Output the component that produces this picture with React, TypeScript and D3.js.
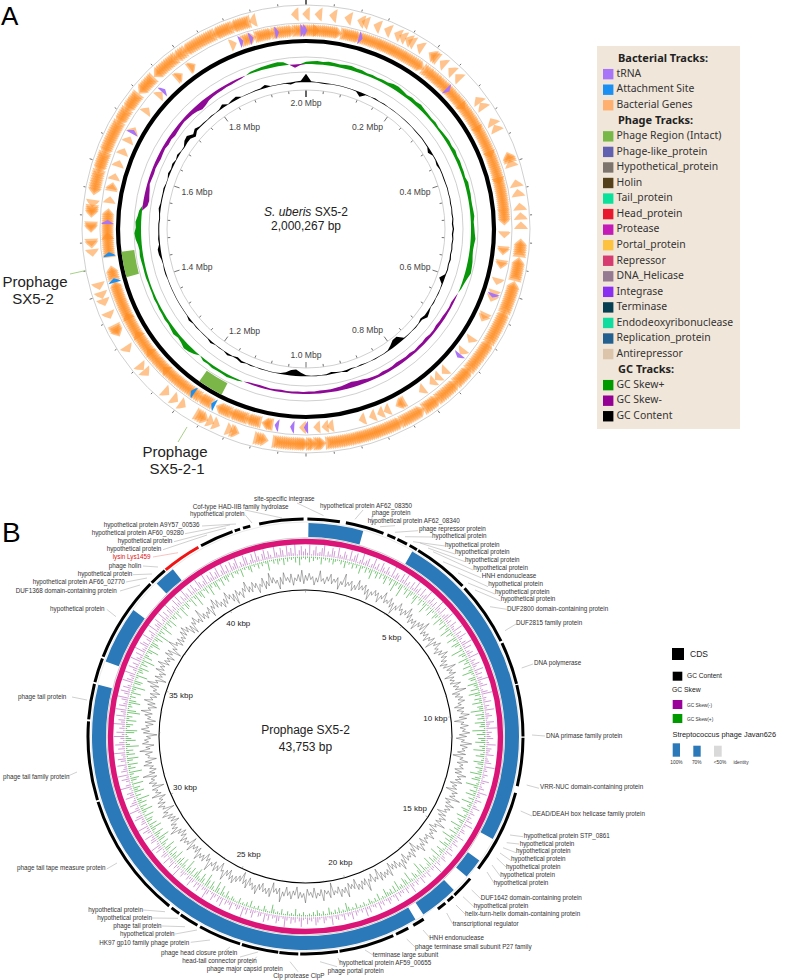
import React from "react";
import * as d3 from "d3";

// ---------- Panel A data ----------
const genomeMbp = 2.000267;
const mbpLabels = [0.2, 0.4, 0.6, 0.8, 1.0, 1.2, 1.4, 1.6, 1.8, 2.0];
// gene clusters along the genome, in degrees clockwise from the origin [start, end]
const forwardGenes = [
  [0, 0], [3.3, 3.3], [7.2, 7.2], [11.3, 11.3], [14.8, 14.8], [16, 16], [19.3, 19.3], [22.3, 22.3], [25.2, 25.2], [26.7, 26.7], [28.4, 28.4], [29.4, 29.4], [32, 32], [35.8, 37], [39.5, 39.5], [42.5, 42.5], [45, 45], [53.1, 53.1], [55, 55], [60, 60], [62, 62], [70, 71], [72.2, 72.2], [77.7, 77.7], [80.3, 80.3], [84, 84], [86.5, 86.5], [89, 89],
  [93.5, 96.5], [98.5, 103], [105, 112], [113, 121], [122, 130], [131, 135], [136, 141.5], [142.5, 146], [147.5, 153], [154, 160], [160.5, 165], [165.5, 173.8], [175.5, 177], [178, 179], [180, 181.5],
  [182, 188], [191, 193], [199, 199.6], [200.8, 200.8], [204.6, 204.6], [206.3, 206.3], [208, 210], [215, 215], [217.5, 217.5], [220.5, 220.5], [228, 228], [230, 230], [236, 236], [241, 242.5], [246.3, 246.3], [250, 250], [252, 252], [254.5, 254.5], [263.6, 263.6], [265.8, 266.4], [270, 271], [274, 275.5], [276.8, 276.8],
  [280, 285], [286, 290], [291, 299], [300, 303], [304, 308], [310, 314], [316, 322], [323, 325], [326, 334], [335, 339], [340, 344], [345.6, 345.6], [357, 357],
];
const reverseGenes = [
  [346, 350], [351, 356], [357, 363], [3, 5.5], [6, 9.5], [11, 15.5], [16.5, 22], [22.5, 26], [26.5, 30], [30.5, 35.5], [37, 39], [39.5, 42], [42.5, 45], [45.5, 52], [52, 60], [60, 68], [68, 76], [76, 85], [85.5, 88],
  [91.7, 91.7], [96, 96.6], [100, 100.6], [105.4, 105.4], [109, 109], [110.5, 110.5], [116, 116.8], [124, 124], [128.2, 128.2], [135.8, 135.8], [138.5, 138.5], [140.5, 140.5], [144.3, 144.3], [151, 152.2], [156, 156], [158, 158], [160.5, 160.5], [163.6, 163.6], [173, 173], [174.5, 174.5], [176.9, 176.9], [181, 181],
  [190.5, 192], [194, 197], [198, 202], [203, 206], [209, 212], [213, 218], [218.6, 225], [225, 232], [232, 238], [238, 244], [244, 254], [256, 258.4], [262.8, 268], [268, 272], [272.6, 275], [278.5, 278.5], [282, 282.6], [285.3, 285.3], [289.3, 289.3], [293, 293], [296.8, 296.8], [299.8, 299.8], [306.7, 306.7], [312.7, 312.7], [320, 320.6], [324.7, 325.2], [338.6, 338.6], [342, 344.5],
];
const trnaSites = [341, 344, 351.6, 359, 359.8, 16, 45.6, 109.6, 129.7, 299.3, 314.2, 272, 184, 188.5, 180];
const attachmentSites = [207.9, 214.8, 255, 262.7];
const phageRegions = [[207, 215], [255, 263]];
// GC skew, one value every 2 degrees (plus = green, minus = purple)
const gcSkewA = [
  2.5, 3, 3.5, 3, 4, 3.5, 3, 4, 4.5, 3.5, 3.5, 2.5, 3, 2.5, 3, 3, 4.5, 5, 4, 3, 4, 3.5, 4.5, 3.5,
  3, 2.5, 3, 2, 2.5, 3, 3.5, 3, 4, 3, 3.5, 3, 3, 2.5, 4, 3.5, 3.5, 3, 3, 3.5, 4, 3, 3.5, 4, 5, 4, 3.5, 4, 5, 5.5, 6, 4, 2.5, 1.5,
  0, -1.5, -2.5, -2, -2.5, -3, -3, -3.5, -2.5, -2.5, -3.5, -3, -3, -2.5, -3.5, -3, -3.5, -4, -3, -3, -3.5, -2.5, -3, -3.5, -4.5, -5, -6, -5, -4, -3.5, -3, -3, -3, -2.5, -2.5, -2, -2.5, -2, -2, -2.5, -2, -1.5, -2, -2.5, -2, -1.5,
  0, 1.5, 2, 3, 2.5, 2.5, 3, 2, 2.5, 0, 3, 5, 6, 4, 3, 4.5, 3.5, 2.5, 3, 2.5, 2.5, 2, 2.5, 2, 2, 2, 2.5, 2.5, 2.5, 3, 3.5, 3, 4, 6, 7, 5.5, 6, 4, 3,
  -5, -6, -5, -4, -2.5, -3, -3.5, -3, -3.5, -4, -3.5, -3, -4, -3.5, -4.5, -4, -3.5, -3, -3.5, -4, -5, -7, -6, -4, -3.5, -3, -3, -2.5, -2.5, -2, -1.5,
  0, 2, 2.5, 3, 3.5, 4, 4.5, 3.5, 0, -3.5, -1,
];
// GC content, one value every 2 degrees
const gcContentA = [
  8, 0.5, 0, -0.5, -0.5, 0, 0, 0, 0, 0,
  -0.3, -4, -0.3, 0, 0.6, 0, 0.3, 0, 0, 0,
  0, 0, 0, 0, -0.3, -0.3, 0.3, -0.3, -0.5, -3,
  -0.3, -0.3, -1.5, -0.3, -0.3, -0.5, -0.3, 0.3, -0.3, 0.3,
  -0.5, 0.3, -0.5, 0.5, -0.8, 0.8, -0.8, 0.5, -0.5, 0.5,
  -0.5, 0.8, -0.5, 0.5, -0.5, -5, -0.5, 0, 0.3, 0,
  0.5, 0, 1.5, 3, -1.5, 0, 0.5, 0, 0, -0.3,
  -6, -6, -3, -0.5, 0, 0, 0.3, 0, 0, -0.5,
  0, -0.5, 1.5, 0, -0.5, -1.5, 0.5, 0, 0.3, 0,
  -0.5, -3, -6, -5, -2, -0.5, 0, 0, 0, 0.3,
  0, 0.5, 0, 1.5, -1.5, 0, 1.5, 0, 0.3, 0,
  1.5, 0, 0, 0, 0.5, 0, 1.5, 0, 0, 0,
  0, 0, 0, 0, 0, 0, 0.5, 0.5, 0, 0.5,
  2, 2.5, 0.5, 1, 0.5, 0.5, 0.5, -0.5, 0.5, 1.5,
  0.5, 0.5, 0.5, 1, 0, 0, 1.5, 0.5, 1.5, 0,
  1.5, 0, -0.5, 3, 4, -3, 2.5, 0.5, 0.5, 0,
  0.5, 0, 0.5, 3, 0, 1.5, 2.5, 0, 0, 0,
  0.5, 0.5, 2.5, 0, 0, 0, 0.3, -1.5, 0.5, 1,
];

const legendA: [string, string | null][] = [
  ["Bacterial Tracks:", null], ["tRNA", "#a874f8"], ["Attachment Site", "#1b8ff2"], ["Bacterial Genes", "#ffb070"],
  ["Phage Tracks:", null], ["Phage Region (Intact)", "#78b848"], ["Phage-like_protein", "#6160b0"], ["Hypothetical_protein", "#7d756d"], ["Holin", "#55401c"], ["Tail_protein", "#0ae29c"], ["Head_protein", "#e8182e"], ["Protease", "#c41ab8"], ["Portal_protein", "#fcc240"], ["Repressor", "#d73c70"], ["DNA_Helicase", "#957a92"], ["Integrase", "#8a2ef0"], ["Terminase", "#073f52"], ["Endodeoxyribonuclease", "#10dca0"], ["Replication_protein", "#23608f"], ["Antirepressor", "#dcc4aa"],
  ["GC Tracks:", null], ["GC Skew+", "#009a00"], ["GC Skew-", "#940094"], ["GC Content", "#000000"],
];

// ---------- Panel B data ----------
const phageBp = 43753;
const kbpLabels = [5, 10, 15, 20, 25, 30, 35, 40];
const cdsArcs = [
  [0.5, 9.1], [10.7, 21], [22.1, 24.4], [25, 27.8], [28.6, 30.8], [31.2, 46.2], [47, 64], [64.6, 76], [76.3, 90], [90.3, 103.2], [105, 127.4], [130.8, 136.8], [137.3, 139.2], [140, 142.5], [147.1, 150.3], [151.8, 155.4], [156.2, 171], [171.4, 181.4], [181.9, 186.9], [187.2, 197], [197.5, 209], [209.8, 215], [215.5, 218], [218.8, 252.5], [253, 274], [274.5, 284], [284.5, 291], [291.5, 314.5], [315, 319.7], [331.3, 340.4], [341, 342.5], [343.3, 345.3], [347.7, 359.5],
];
const lysinArc = [320, 330.5];
const identityArcs = [[0.8, 15.7], [30, 118.7], [125.5, 131], [136, 146.5], [149, 284], [290.6, 306.3], [315.8, 321.6]];
const skewMinusB = [
  5,2,8,1,4,7,2,3,6,9,1,4,2,7,5,1,8,3,2,6,4,1,8,2,5,7,1,3,9,2,4,6,1,3,8,2,5,1,7,4,
  2,6,3,1,9,2,5,4,1,7,3,8,2,4,1,6,2,9,3,5,1,7,2,4,8,1,3,6,2,5,1,9,4,2,7,1,3,5,8,2,
  4,1,6,3,2,8,1,5,2,7,3,1,4,9,2,6,1,3,5,2,8,1,4,2,6,3,1,7,2,5,1,4,9,2,3,6,1,2,5,8,
  1,3,2,6,1,4,2,7,1,3,5,2,1,6,3,2,8,1,4,2,3,5,1,2,7,1,4,3,2,6,1,2,3,5,1,8,2,3,1,4,
  2,1,6,3,1,2,4,1,7,2,3,1,5,2,1,3,6,1,2,4,1,3,2,5,1,7,2,1,3,4,1,2,6,1,3,2,5,1,2,4,
  1,6,2,1,3,5,1,2,4,1,8,2,3,1,2,5,1,3,2,6,1,2,4,1,3,7,1,2,5,1,3,2,4,1,6,2,1,3,5,2,
  1,4,2,6,1,3,2,1,5,2,7,1,3,1,2,4,1,6,2,3,1,5,2,1,4,3,1,7,2,1,3,5,1,2,4,6,1,3,2,5,
  1,2,7,3,1,4,2,5,1,3,8,2,1,4,6,2,3,1,5,2,7,1,3,4,1,2,6,3,1,5,2,8,1,3,4,2,1,6,3,2,
  4,1,7,2,5,1,3,6,2,1,4,8,2,3,1,6,2,5,1,3,7,2,4,1,2,5,3,1,9,2,4,1,6,3,2,7,1,4,5,2,
  1,6,3,8,2,1,5,4,2,7,1,3,6,2,9,1,4,3,2,7,5,1,2,8,3,1,6,4,2,1,7,3,5,1,2,9,4,1,3,6,
  2,8,1,5,3,2,7,1,4,6,2,3,9,1,5,2,7,4,1,3,8,2,6,1,4,2,9,3,5,1,7,2,4,8,1,6,3,2,5,9,
  1,4,7,2,6,3,1,8,5,2,4,9,1,3,7,2,5,1,8,4,2,6,1,9,3,2,7,5,1,4,8,2,3,6,1,9,2,5,4,7,
  1,3,8,2,6,1,5,9,2,4,1,7,3,8,1,5,2,9,4,1,6,2,7,3,1,8,5,2,4,9,1,6,3,7,2,5,8,1,4,9,
  2,6,1,7,3,5,9,1,4,2,8,6,1,3,7,2,9,4,1,5,8,2,6,3,1,9,4,2,7,5,1,8,3,6,2,9,1,4,7,3,
];
const skewPlusB = [
  2,1,4,1,3,1,2,1,5,1,2,1,3,1,4,2,1,1,3,1,5,1,2,1,4,1,3,1,6,2,1,4,1,3,7,1,2,5,1,4,
  1,3,6,1,2,5,1,8,3,1,4,9,1,2,5,1,6,3,1,4,7,1,2,5,1,3,8,1,4,1,6,2,1,5,3,1,7,2,4,1,
  6,1,3,8,1,5,2,1,7,3,1,6,4,1,2,9,1,5,3,1,7,2,4,1,6,1,3,8,2,1,5,4,1,7,3,2,6,1,8,4,
  1,5,2,7,1,4,3,9,1,6,2,5,1,7,3,4,1,9,2,6,1,5,3,7,1,4,2,8,1,3,6,1,2,7,4,1,5,2,3,8,
  1,4,6,1,2,9,3,1,5,2,7,1,4,1,8,2,3,1,6,4,1,2,7,1,5,3,1,8,2,4,1,6,1,3,9,2,5,1,4,7,
  1,2,6,3,1,8,1,4,2,5,1,7,3,1,2,6,1,9,4,1,3,5,1,2,8,1,4,6,1,3,2,7,1,5,1,4,2,3,6,1,
  2,1,5,1,3,1,2,4,1,1,3,1,2,1,4,1,2,1,3,6,1,2,1,4,1,3,1,2,5,1,1,3,1,2,4,1,3,1,2,1,
  1,3,1,2,1,5,1,2,1,3,1,1,4,1,2,1,3,6,1,1,2,4,1,1,3,1,2,1,5,1,3,1,2,1,4,1,1,2,3,1,
  2,5,1,3,7,1,4,8,1,3,6,1,5,9,1,4,7,2,3,8,5,1,6,2,4,9,1,3,7,2,6,4,1,8,3,5,2,7,1,4,
  8,1,3,6,1,5,9,2,4,7,1,3,8,2,6,1,4,5,1,7,1,3,8,2,5,1,6,3,9,1,4,1,7,3,5,1,8,1,4,6,
  1,3,9,1,5,2,7,1,4,8,1,6,2,5,1,9,3,1,7,4,2,1,6,8,1,3,5,1,7,2,4,1,9,6,1,3,2,8,5,1,
  4,1,7,2,3,9,1,5,6,1,2,8,1,4,3,7,1,5,2,9,1,6,3,1,4,8,1,2,7,5,1,3,6,1,9,2,4,1,8,3,
  1,5,2,7,1,3,4,1,6,2,1,8,3,1,5,4,1,2,7,1,3,9,1,4,6,1,2,5,1,8,3,1,4,7,1,2,6,1,3,5,
  2,1,4,1,2,3,1,6,1,2,1,3,5,1,2,1,4,1,3,1,2,7,1,1,3,1,4,2,1,5,1,3,1,2,1,4,1,6,2,1,
];
const gcContentB = [
  3,-2,5,-1,2,-6,1,-3,8,-2,1,-4,3,-1,6,-3,2,-1,4,-7,1,-2,9,-3,2,-1,4,-5,1,-3,7,-2,3,-1,5,-4,2,-8,1,-2,
  4,-1,3,-6,2,-1,7,-3,1,-2,5,-4,2,-9,1,-3,6,-1,2,-4,3,-1,8,-2,4,-5,1,-3,2,-7,3,-1,5,-2,9,-4,1,-3,2,-6,
  1,-2,4,-8,3,-1,6,-2,1,-5,3,-2,7,-1,4,-3,2,-6,1,-4,8,-2,3,-1,5,-7,2,-3,1,-4,6,-2,3,-1,9,-5,2,-3,4,-1,
  5,-2,1,-6,3,-4,2,-1,7,-3,4,-8,1,-2,5,-3,2,-1,6,-4,3,-7,1,-2,8,-3,4,-1,2,-5,3,-9,1,-2,6,-4,2,-1,3,-5,
  2,-4,7,-1,3,-2,5,-6,1,-3,2,-8,4,-1,3,-2,9,-5,1,-3,6,-2,4,-1,2,-7,3,-4,5,-1,2,-3,8,-2,1,-6,4,-3,2,-1,
  6,-3,1,-2,4,-5,3,-1,7,-2,2,-9,1,-4,5,-3,2,-1,3,-6,4,-2,8,-1,3,-5,2,-4,1,-7,6,-2,3,-1,4,-3,5,-8,2,-1,
  3,-6,1,-2,9,-4,2,-3,5,-1,4,-7,2,-3,1,-5,8,-2,3,-1,6,-4,2,-1,3,-9,5,-2,1,-3,7,-4,2,-1,4,-6,3,-2,1,-5,
  8,-1,3,-2,4,-7,1,-3,5,-2,2,-6,3,-1,9,-4,2,-3,1,-8,6,-2,4,-1,3,-5,2,-3,7,-1,4,-2,1,-6,5,-3,2,-9,1,-4,
  3,-2,6,-1,4,-5,2,-3,8,-1,1,-7,3,-2,5,-4,2,-1,9,-3,1,-6,4,-2,3,-1,7,-5,2,-4,1,-3,6,-8,2,-1,3,-2,5,-4,
  1,-6,2,-3,8,-1,4,-2,3,-7,1,-5,2,-4,6,-1,3,-9,2,-1,5,-3,4,-2,1,-6,7,-3,2,-1,4,-8,3,-2,5,-1,2,-4,9,-3,
  2,-5,1,-3,6,-2,4,-7,1,-1,3,-4,8,-2,2,-6,5,-1,3,-3,1,-9,4,-2,6,-1,2,-5,3,-7,1,-2,4,-3,8,-1,2,-6,3,-4,
  7,-1,2,-4,3,-6,1,-2,5,-3,9,-1,2,-8,4,-3,1,-5,6,-2,3,-1,7,-4,2,-3,1,-6,5,-2,4,-9,1,-3,8,-1,2,-5,3,-4,
  1,-3,5,-2,7,-1,4,-6,2,-8,3,-1,6,-2,1,-4,9,-3,2,-5,1,-2,4,-7,3,-1,8,-2,5,-3,1,-6,2,-4,7,-1,3,-5,2,-9,
  4,-2,1,-6,3,-1,8,-3,2,-4,5,-1,3,-7,1,-2,6,-5,2,-3,9,-1,4,-2,1,-8,3,-4,7,-1,2,-3,5,-6,1,-2,4,-3,8,-5,
];
const geneLabels = [
  "site-specific integrase", "Cof-type HAD-IIB family hydrolase", "hypothetical protein", "hypothetical protein A9Y57_00536", "hypothetical protein AF60_09280", "hypothetical protein", "hypothetical protein", "lysin Lys1459", "phage holin", "hypothetical protein", "hypothetical protein AF66_02770", "DUF1368 domain-containing protein", "hypothetical protein",
  "hypothetical protein AF62_08350", "phage protein", "hypothetical protein AF62_08340", "phage repressor protein", "hypothetical protein", "hypothetical protein", "hypothetical protein", "hypothetical protein", "hypothetical protein", "HNH endonuclease", "hypothetical protein", "hypothetical protein", "hypothetical protein", "DUF2800 domain-containing protein", "DUF2815 family protein", "DNA polymerase", "DNA primase family protein", "VRR-NUC domain-containing protein", "DEAD/DEAH box helicase family protein",
  "hypothetical protein STP_0861", "hypothetical protein", "hypothetical protein", "hypothetical protein", "hypothetical protein", "hypothetical protein", "hypothetical protein", "DUF1642 domain-containing protein", "hypothetical protein", "helix-turn-helix domain-containing protein", "transcriptional regulator", "HNH endonuclease", "phage terminase small subunit P27 family", "terminase large subunit", "hypothetical protein AF59_00655", "phage portal protein", "Clp protease ClpP", "phage major capsid protein", "head-tail connector protein", "phage head closure protein", "HK97 gp10 family phage protein", "hypothetical protein", "phage tail protein", "hypothetical protein", "hypothetical protein", "phage tail tape measure protein", "phage tail family protein", "phage tail protein",
];
// layout of each label: text x, y, leader x1, y1, x2, y2
const geneLabelLayout = [
  [254, 499.3, 297, 503, 323.5, 515.6], [192.7, 507.3, 245, 510, 282, 518], [190, 514.7, 245, 514.7, 252, 523], [103.7, 525.7, 202, 526, 236, 524], [91.7, 533.7, 185, 533.7, 230, 525], [117.7, 541.7, 174, 541.7, 226, 528], [106.7, 549.7, 163, 549.7, 207, 535], [112.7, 557.3, 153, 557, 178, 552.7], [108.7, 566, 143, 566, 158, 567], [77.7, 574.7, 133, 574.7, 152, 574], [32.7, 582, 126, 582, 147, 578], [15.7, 591, 120, 591, 140, 585], [50, 609.3, 106.7, 609.3, 116, 616.7],
  [320, 506, 363, 510, 355, 519.3], [372, 513.7, 372, 516, 372, 525], [367.7, 521.7, 380, 526.7, 395, 525.7], [419, 529.3, 395, 532.3, 418, 530.7], [432, 536.7, 405, 536.7, 432, 537], [445, 545, 413, 541.7, 445, 546], [455, 552.7, 420, 543, 455, 554], [465, 560.3, 428, 548, 465, 561.7], [473.3, 568.3, 433, 551.7, 473, 570], [481.7, 576.3, 443, 561.7, 481, 577.7], [488.3, 584.3, 458, 573, 488, 586.7], [495, 592, 468, 583, 495, 594], [500.7, 599.7, 475, 590, 500.7, 601], [507, 609, 490, 606.7, 506.7, 609.3], [516, 623.7, 505, 630.7, 516, 624], [534, 663.7, 521.7, 668, 533, 664], [546, 736, 532, 735, 545, 736], [540, 787.3, 526.7, 785, 539, 788.3], [532.3, 814.7, 520.7, 811, 532, 816],
  [523.7, 836, 510, 835, 523, 836.7], [519.7, 844, 506.7, 842.7, 519, 844], [516, 851.7, 503, 847.7, 516, 852.7], [511, 859.3, 500, 853, 511, 860.7], [506, 867, 496.7, 858, 506, 867], [500.3, 875.7, 492, 865, 500.7, 876.7], [493.7, 883.3, 487, 872, 494, 883], [480.7, 898.7, 471.7, 890, 481, 899], [473.7, 906.3, 463, 896.7, 474, 907], [465, 914, 456, 905, 465, 914], [452.7, 924, 446.7, 913, 452.7, 924], [429.3, 938.7, 423, 930, 430, 938], [415, 947.3, 406.7, 939, 415, 947], [372.7, 955.7, 365, 950, 373, 955], [339.3, 963.7, 338, 958, 340, 963], [327.7, 971.7, 320, 961.7, 337, 966.7], [273.3, 976, 290, 961.7, 298, 971.7], [206.7, 969, 256.7, 956.7, 250, 965], [182.3, 961, 240, 957, 258, 952], [161, 953.3, 225, 951, 230, 947], [99.3, 943.3, 190.7, 942.3, 210, 940], [120, 934, 175, 934, 197, 930], [113.3, 926, 162, 926, 185, 926.7], [97.3, 918, 152, 918, 178, 918.3], [88.3, 910, 143, 910, 165, 911.7], [17, 868, 106.7, 869, 117, 863], [3, 777, 68, 776, 77, 772], [18, 697, 72, 697, 87, 700],
];

// ---------- helpers ----------
const AX = 306, AY = 229, BX = 305.5, BY = 736.5;
const toRad = d3.scaleLinear().domain([0, 360]).range([0, 2 * Math.PI]);
const mbpDeg = d3.scaleLinear().domain([0, genomeMbp]).range([0, 360]);
const kbpDeg = d3.scaleLinear().domain([0, phageBp / 1000]).range([0, 360]);
const pt = (cx: number, cy: number, deg: number, r: number): [number, number] => {
  const a = toRad(deg);
  return [cx + r * Math.sin(a), cy - r * Math.cos(a)];
};
const arcGen = d3.arc();
const ringArc = (a: number, b: number, r0: number, r1: number) =>
  arcGen({ innerRadius: r0, outerRadius: r1, startAngle: toRad(a), endAngle: toRad(b) }) as string;

function wedge(deg: number, len: number, r0: number, r1: number, cx: number, cy: number) {
  // arrow: base at deg spanning r0..r1, tapering to a tip at deg + len
  const p = d3.path();
  const mid = (r0 + r1) / 2, h = r1 - r0;
  const pts = [pt(cx, cy, deg, r0), pt(cx, cy, deg, r1), pt(cx, cy, deg + len * 0.4, r1 - h * 0.16), pt(cx, cy, deg + len, mid), pt(cx, cy, deg + len * 0.4, r0 + h * 0.16)];
  pts.forEach(([x, y], i) => (i ? p.lineTo(x, y) : p.moveTo(x, y)));
  p.closePath();
  return p.toString();
}
const GENE_LEN = 2;
function geneMarks(list: number[][], dir: number, r0: number, r1: number) {
  const out: string[] = [];
  list.forEach(([s, e]) => {
    const n = Math.max(0, Math.round((e - s) / 0.6));
    d3.range(n + 1).forEach((k) => {
      const at = n === 0 ? s : s + ((e - s) * k) / n;
      out.push(wedge(at - (dir * GENE_LEN) / 2, dir * GENE_LEN, r0, r1, AX, AY));
    });
  });
  return out;
}

function PanelA() {
  const r = d3.scaleLinear().domain([0, 1]).range([165, 165.95]);
  const vals = [...gcSkewA, gcSkewA[0]];
  const ang = (_: number, i: number) => toRad(i * (360 / gcSkewA.length));
  const posArea = d3.areaRadial<number>().angle(ang).innerRadius(165).outerRadius((v) => r(Math.max(v, 0)));
  const negArea = d3.areaRadial<number>().angle(ang).innerRadius((v) => r(Math.min(v, 0))).outerRadius(165);
  const c = d3.scaleLinear().domain([0, 1]).range([147, 148]);
  const cVals = [...gcContentA, gcContentA[0]];
  const cAng = (_: number, i: number) => toRad(i * (360 / gcContentA.length));
  const cArea = d3.areaRadial<number>().angle(cAng).innerRadius((v) => c(Math.min(v, 0)) - 0.25).outerRadius((v) => c(Math.max(v, 0)) + 0.25);
  const labelDy = [5, 4.5, -2, -4, 0, -3, -2, 4.5, 5, 0];
  return (
    <g>
      <text x={1} y={25} fontSize={26} fontFamily="Liberation Sans">A</text>
      {[224, 206, 172, 157, 139].map((rad) => (
        <circle key={rad} cx={AX} cy={AY} r={rad} fill="none" stroke="#c4c4c4" strokeWidth={0.8} />
      ))}
      {geneMarks(forwardGenes, -1, 208, 222).map((d, i) => <path key={i} d={d} fill="#ff8a1c" fillOpacity={0.5} />)}
      {geneMarks(reverseGenes, 1, 192, 205).map((d, i) => <path key={i} d={d} fill="#ff8a1c" fillOpacity={0.5} />)}
      {trnaSites.map((s, i) => <path key={i} d={wedge(s - 0.6, 1.2, 192, 205, AX, AY)} fill="#a874f8" />)}
      {attachmentSites.map((s, i) => <path key={i} d={wedge(s - 0.6, 1.2, 192, 205, AX, AY)} fill="#1b8ff2" />)}
      <circle cx={AX} cy={AY} r={188} fill="none" stroke="#000" strokeWidth={4.2} />
      <g transform={`translate(${AX},${AY})`}>
        {phageRegions.map(([a, b], i) => <path key={i} d={ringArc(a, b, 173, 186)} fill="#7ab648" />)}
        <path d={posArea(vals) as string} fill="#0a960a" />
        <path d={negArea(vals) as string} fill="#8e0a96" />
        <path d={cArea(cVals) as string} fill="#000" />
      </g>
      {d3.range(50).map((i) => {
        const deg = i * 7.2, major = i % 5 === 0, top = i === 0;
        const [x1, y1] = pt(AX, AY, deg, 224.5), [x2, y2] = pt(AX, AY, deg, top ? 229 : major ? 227.5 : 226.5);
        const [x3, y3] = pt(AX, AY, deg, 138.5), [x4, y4] = pt(AX, AY, deg, top ? 132 : major ? 133 : 136);
        return (
          <g key={i} stroke={top ? "#000" : "#333"} strokeWidth={top ? 1.2 : 0.7}>
            <line x1={x1} y1={y1} x2={x2} y2={y2} />
            <line x1={x3} y1={y3} x2={x4} y2={y4} />
          </g>
        );
      })}
      {mbpLabels.map((m, i) => {
        const deg = mbpDeg(m) % 360;
        const [x, y] = pt(AX, AY, deg, m === 2.0 ? 125 : m === 1.0 ? 127 : 131);
        const anchor = m === 2.0 || m === 1.0 ? "middle" : deg < 180 ? "end" : "start";
        return (
          <text key={m} x={m === 2.0 ? AX : x} y={y + labelDy[i]} fontSize={8.6} fontFamily="Liberation Sans" fill="#444" textAnchor={anchor} dominantBaseline="middle">
            {m.toFixed(1)} Mbp
          </text>
        );
      })}
      <text x={AX} y={213} fontSize={12} fontFamily="Liberation Sans" textAnchor="middle" dominantBaseline="middle" fill="#222">
        <tspan fontStyle="italic">S. uberis</tspan> SX5-2
      </text>
      <text x={AX} y={227} fontSize={12} fontFamily="Liberation Sans" textAnchor="middle" dominantBaseline="middle" fill="#222">2,000,267 bp</text>
      <line x1={70} y1={274} x2={85} y2={270.7} stroke="#8fc46a" strokeWidth={0.8} />
      <line x1={178} y1={442} x2={187} y2={427} stroke="#8fc46a" strokeWidth={0.8} />
      <text fontSize={15} fontFamily="Liberation Sans" fill="#222" textAnchor="middle" dominantBaseline="middle">
        <tspan x={35} y={283}>Prophage</tspan>
        <tspan x={33} y={300}>SX5-2</tspan>
      </text>
      <text fontSize={15} fontFamily="Liberation Sans" fill="#222" textAnchor="middle" dominantBaseline="middle">
        <tspan x={175} y={453}>Prophage</tspan>
        <tspan x={177} y={470}>SX5-2-1</tspan>
      </text>
      <rect x={597} y={46} width={143} height={383} fill="#f1e6da" />
      {legendA.map(([label, col], i) => {
        const y = 58.6 + i * 15.55;
        return col === null ? (
          <text key={i} x={618} y={y} fontSize={11} fontWeight={700} fontFamily="Noto Sans" fill="#222" dominantBaseline="middle">{label}</text>
        ) : (
          <g key={i}>
            <rect x={603} y={y - 5.2} width={10.4} height={10.4} fill={col} />
            <text x={616.5} y={y} fontSize={10.4} fontFamily="Noto Sans" fill="#333" dominantBaseline="middle">{label}</text>
          </g>
        );
      })}
    </g>
  );
}

function radialLines(vals: number[], base: number, scale: number) {
  return vals.map((v, i) => {
    const deg = (i * 360) / vals.length;
    const [x1, y1] = pt(BX, BY, deg, base);
    const [x2, y2] = pt(BX, BY, deg, base + v * scale);
    return { x1, y1, x2, y2 };
  });
}

function PanelB() {
  const purple = radialLines(skewMinusB, 181, 1.35);
  const green = radialLines(skewPlusB, 180, -1.45);
  const gcLine = d3.lineRadial<number>()
    .angle((_, i) => toRad((i * 360) / gcContentB.length))
    .radius((v) => 158 + v * 1.05)
    .curve(d3.curveLinearClosed);
  return (
    <g>
      <text x={2} y={542} fontSize={28} fontFamily="Liberation Sans">B</text>
      {purple.map((l, i) => <line key={i} {...l} stroke="#a030a8" strokeWidth={0.65} strokeOpacity={0.75} />)}
      {green.map((l, i) => <line key={i} {...l} stroke="#22a022" strokeWidth={0.75} strokeOpacity={0.8} />)}
      <g transform={`translate(${BX},${BY})`}>
        {cdsArcs.map(([a, b], i) => <path key={i} d={ringArc(a, b, 216, 219)} fill="#000" />)}
        <path d={ringArc(lysinArc[0], lysinArc[1], 216, 219)} fill="#f01414" />
        <circle r={214.5} fill="none" stroke="#dcdcdc" strokeWidth={0.6} />
        {identityArcs.map(([a, b], i) => <path key={i} d={ringArc(a, b, 199.5, 213.5)} fill="#2b79b8" />)}
        <circle r={198.7} fill="none" stroke="#9a9a9a" strokeWidth={0.5} />
        <circle r={195} fill="none" stroke="#db1478" strokeWidth={5.4} />
        <circle r={146.5} fill="none" stroke="#000" strokeWidth={1.1} />
        <path d={gcLine(gcContentB) as string} fill="none" stroke="#222" strokeWidth={0.45} strokeOpacity={0.8} />
      </g>
      {d3.range(44).map((k) => {
        const [x1, y1] = pt(BX, BY, kbpDeg(k), 146.5), [x2, y2] = pt(BX, BY, kbpDeg(k), k % 5 === 0 ? 144 : 145.2);
        return <line key={k} x1={x1} y1={y1} x2={x2} y2={y2} stroke="#777" strokeWidth={0.5} />;
      })}
      {kbpLabels.map((k) => {
        const [x, y] = pt(BX, BY, kbpDeg(k), 131);
        return <text key={k} x={x} y={y} fontSize={8} fontFamily="Liberation Sans" fill="#222" textAnchor="middle" dominantBaseline="middle">{k} kbp</text>;
      })}
      <text x={BX} y={731} fontSize={12} fontFamily="Liberation Sans" fill="#222" textAnchor="middle" dominantBaseline="middle">Prophage SX5-2</text>
      <text x={BX} y={748} fontSize={12} fontFamily="Liberation Sans" fill="#222" textAnchor="middle" dominantBaseline="middle">43,753 bp</text>
      {geneLabels.map((t, i) => {
        const [x, y, x1, y1, x2, y2] = geneLabelLayout[i];
        const red = t === "lysin Lys1459";
        return (
          <g key={i}>
            <line x1={x1} y1={y1} x2={x2} y2={y2} stroke={red ? "#e66" : "#888"} strokeWidth={0.4} />
            <text x={x} y={y} fontSize={6.3} fontFamily="Liberation Sans" fill={red ? "#e01010" : "#333"} dominantBaseline="middle">{t}</text>
          </g>
        );
      })}
      <rect x={672} y={648} width={12} height={12} fill="#000" />
      <text x={690} y={654.5} fontSize={8.5} fontFamily="Liberation Sans" fill="#222" dominantBaseline="middle">CDS</text>
      <rect x={672.7} y={671.7} width={9.6} height={9} fill="#000" />
      <text x={687} y={676.7} fontSize={6.6} fontFamily="Liberation Sans" fill="#222" dominantBaseline="middle">GC Content</text>
      <text x={672} y={690.5} fontSize={6.8} fontFamily="Liberation Sans" fill="#222" dominantBaseline="middle">GC Skew</text>
      <rect x={672.7} y={700} width={9.6} height={9} fill="#9a009a" />
      <text x={687} y={706} fontSize={4.8} fontFamily="Liberation Sans" fill="#333" dominantBaseline="middle">GC Skew(-)</text>
      <rect x={672.7} y={714} width={9.6} height={9} fill="#009a00" />
      <text x={687} y={720} fontSize={4.8} fontFamily="Liberation Sans" fill="#333" dominantBaseline="middle">GC Skew(+)</text>
      <text x={672.5} y={734.7} fontSize={7.4} fontFamily="Liberation Sans" fill="#222" dominantBaseline="middle">Streptococcus phage Javan626</text>
      <rect x={672.7} y={743.3} width={7.3} height={13.4} fill="#2b79b8" />
      <rect x={693.3} y={745.7} width={7.4} height={11} fill="#2b79b8" />
      <rect x={714} y={745.7} width={7.7} height={11} fill="#d9d9d9" />
      {[["100%", 676.5], ["70%", 696.7], ["<50%", 720], ["identity", 741]].map(([t, x]) => (
        <text key={t as string} x={x as number} y={762.3} fontSize={4.8} fontFamily="Liberation Sans" fill="#333" textAnchor="middle" dominantBaseline="middle">{t}</text>
      ))}
    </g>
  );
}

export default function App() {
  return (
    <svg width={785} height={980} viewBox="0 0 785 980" style={{ position: "absolute", left: 0, top: 0, background: "#fff" }}>
      <PanelA />
      <PanelB />
    </svg>
  );
}
